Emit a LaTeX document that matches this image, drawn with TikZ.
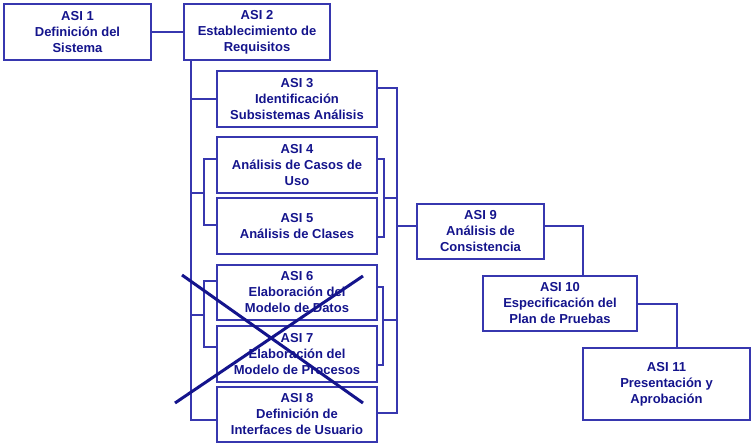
\documentclass[tikz,border=0pt]{standalone}
\usepackage{fontspec}
\setmainfont{Liberation Sans}
\definecolor{asitext}{RGB}{20,20,140}
\definecolor{asiline}{RGB}{55,55,175}
\begin{document}
\begin{tikzpicture}[x=1pt,y=-1pt,
    asibox/.style={draw=asiline,line width=1.2pt,rectangle,align=center,text=asitext,
      font=\fontsize{13}{16}\selectfont\bfseries,inner sep=0pt,minimum width=160pt,minimum height=56pt},
    link/.style={draw=asiline,line width=1.2pt}]
  \useasboundingbox (0,0) rectangle (756,447);

    \node[asibox,minimum width=147pt] (a1) at (77.5,32) {ASI 1\\Definición del\\Sistema};
    \node[asibox,minimum width=146pt] (a2) at (257,32) {ASI 2\\Establecimiento de\\Requisitos};

    \node[asibox] (a3) at (297,99) {ASI 3\\Identificación\\Subsistemas Análisis};
    \node[asibox] (a4) at (297,165) {ASI 4\\Análisis de Casos de\\Uso};
    \node[asibox] (a5) at (297,226) {ASI 5\\Análisis de Clases};
    \node[asibox,minimum height=55pt] (a6) at (297,292.5) {ASI 6\\Elaboración del\\Modelo de Datos};
    \node[asibox] (a7) at (297,354) {ASI 7\\Elaboración del\\Modelo de Procesos};
    \node[asibox,minimum height=55pt] (a8) at (297,414.5) {ASI 8\\Definición de\\Interfaces de Usuario};

    \node[asibox,minimum width=127pt,minimum height=55pt] (a9) at (480.5,231.5) {ASI 9\\Análisis de\\Consistencia};
    \node[asibox,minimum width=154pt,minimum height=55pt] (a10) at (560,303.5) {ASI 10\\Especificación del\\Plan de Pruebas};
    \node[asibox,minimum width=167pt,minimum height=72pt] (a11) at (666.5,384) {ASI 11\\Presentación y\\Aprobación};

    %left trunk
    \coordinate (lt) at (191,60);
    \coordinate (l45) at (204,193);
    \coordinate (l67) at (204,315);

    \draw[link] (a1) to (a2);
    \draw[link] (lt) |- ([yshift=-5.5pt]a8.west);
    \draw[link] (lt |- a3.west) to (a3.west);
    \draw[link] (lt |- l45) to (l45);
    \draw[link] (lt |- l67) to (l67);

    \draw[link] ([yshift=6pt]a4.west) -| (l45) |- ([yshift=1pt]a5.west);
    \draw[link] ([yshift=11.5pt]a6.west) -| (l67) |- ([yshift=7pt]a7.west);

    %right trunk
    \coordinate (rt) at (397,88);
    \coordinate (r45) at (384,198);
    \coordinate (r67) at (383,320);

    \draw[link] ([yshift=11pt]a3.east) -- (rt) |- ([yshift=1.5pt]a8.east);
    \draw[link] (r45) to (rt |- r45);
    \draw[link] (r67) to (rt |- r67);
    \draw[link] ([yshift=6pt]a4.east) -| (r45) |- ([yshift=-11pt]a5.east);
    \draw[link] ([yshift=5.5pt]a6.east) -| (r67) |- ([yshift=-11pt]a7.east);

    \draw[link] (rt |- 0,226) to ([yshift=5.5pt]a9.west);
    \draw[link] ([yshift=5.5pt]a9.east) -| ([xshift=23pt]a10.north);
    \draw[link] ([yshift=-0.5pt]a10.east) -| ([xshift=10.5pt]a11.north);

    %cross over ASI 6 and ASI 7
    \draw[asitext,line width=3pt] (182,275) -- (363,403);
    \draw[asitext,line width=3pt] (175,403) -- (363,276);

  \end{tikzpicture}
\end{document}
